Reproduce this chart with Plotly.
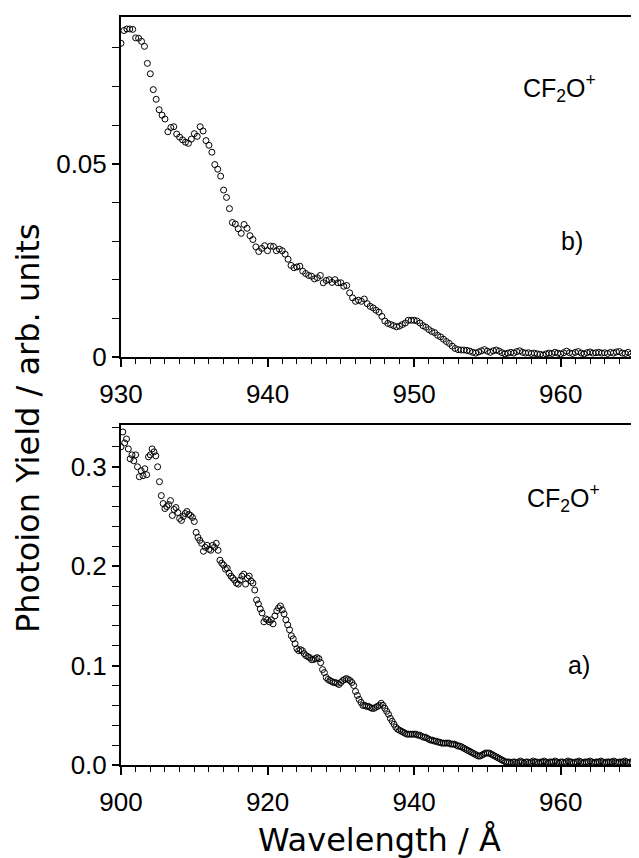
import plotly.graph_objects as go

FONT = "Liberation Sans, Arial, sans-serif"
TITLE_FONT = "DejaVu Sans, sans-serif"

# --- panel b): CF2O+ yield, 930-965 A, sampled every 0.2 A ---
WL_B_START = 930.0
WL_B_STEP = 0.2
yield_b = [
    0.0812, 0.0845, 0.0849, 0.0849, 0.0848,
    0.0826, 0.0825, 0.0817, 0.0804, 0.0760,
    0.0733, 0.0692, 0.0667, 0.0640, 0.0626,
    0.0616, 0.0583, 0.0594, 0.0596, 0.0577,
    0.0569, 0.0562, 0.0556, 0.0553, 0.0564,
    0.0578, 0.0571, 0.0596, 0.0585, 0.0560,
    0.0548, 0.0530, 0.0498, 0.0486, 0.0468,
    0.0432, 0.0413, 0.0384, 0.0348, 0.0344,
    0.0332, 0.0320, 0.0343, 0.0333, 0.0314,
    0.0304, 0.0285, 0.0273, 0.0281, 0.0288,
    0.0275, 0.0287, 0.0286, 0.0275, 0.0279,
    0.0275, 0.0266, 0.0253, 0.0237, 0.0231,
    0.0233, 0.0235, 0.0222, 0.0216, 0.0211,
    0.0209, 0.0202, 0.0205, 0.0211, 0.0192,
    0.0198, 0.0200, 0.0193, 0.0200, 0.0192,
    0.0192, 0.0183, 0.0185, 0.0166, 0.0153,
    0.0144, 0.0147, 0.0144, 0.0150, 0.0138,
    0.0131, 0.0127, 0.0121, 0.0116, 0.0105,
    0.0093, 0.0087, 0.0084, 0.0081, 0.0078,
    0.0080, 0.0084, 0.0088, 0.0095, 0.0095,
    0.0095, 0.0093, 0.0088, 0.0081, 0.0077,
    0.0071, 0.0066, 0.0063, 0.0056, 0.0052,
    0.0046, 0.0040, 0.0035, 0.0028, 0.0022,
    0.0019, 0.0018, 0.0018, 0.0017, 0.0015,
    0.0012, 0.0010, 0.0013, 0.0016, 0.0019,
    0.0015, 0.0012, 0.0016, 0.0018, 0.0015,
    0.0011, 0.0008, 0.0010, 0.0012, 0.0010,
    0.0014, 0.0016, 0.0012, 0.0010, 0.0011,
    0.0009, 0.0010, 0.0008, 0.0007, 0.0005,
    0.0008, 0.0010, 0.0009, 0.0012, 0.0010,
    0.0008, 0.0011, 0.0015, 0.0011, 0.0009,
    0.0012, 0.0014, 0.0010, 0.0008, 0.0011,
    0.0013, 0.0010, 0.0011, 0.0012, 0.0010,
    0.0011, 0.0009, 0.0012, 0.0010, 0.0013,
    0.0014, 0.0010, 0.0009, 0.0012, 0.0008,
    0.0009,
]

# --- panel a): CF2O+ yield, 900-970 A, sampled every 0.25 A ---
WL_A_START = 900.0
WL_A_STEP = 0.25
yield_a = [
    0.320, 0.335, 0.324, 0.328,
    0.318, 0.308, 0.312, 0.306,
    0.312, 0.300, 0.290, 0.296,
    0.291, 0.298, 0.292, 0.310,
    0.312, 0.318, 0.315, 0.311,
    0.300, 0.285, 0.271, 0.263,
    0.258, 0.260, 0.262, 0.266,
    0.251, 0.257, 0.259, 0.254,
    0.248, 0.246, 0.250, 0.253,
    0.255, 0.252, 0.251, 0.249,
    0.245, 0.234, 0.229, 0.226,
    0.223, 0.215, 0.219, 0.221,
    0.217, 0.216, 0.221, 0.219,
    0.223, 0.216, 0.206, 0.203,
    0.201, 0.197, 0.198, 0.193,
    0.190, 0.188, 0.186, 0.183,
    0.182, 0.186, 0.190, 0.192,
    0.182, 0.188, 0.190, 0.185,
    0.183, 0.176, 0.166, 0.162,
    0.157, 0.153, 0.144, 0.147,
    0.146, 0.144, 0.146, 0.142,
    0.150, 0.155, 0.158, 0.160,
    0.156, 0.152, 0.146, 0.141,
    0.136, 0.130, 0.127, 0.122,
    0.117, 0.115, 0.116, 0.115,
    0.112, 0.110, 0.109, 0.108,
    0.106, 0.106, 0.107, 0.108,
    0.107, 0.103, 0.096, 0.093,
    0.088, 0.086, 0.085, 0.084,
    0.083, 0.083, 0.082, 0.081,
    0.083, 0.085, 0.086, 0.087,
    0.086, 0.085, 0.083, 0.080,
    0.074, 0.070, 0.066, 0.063,
    0.060, 0.060, 0.059, 0.059,
    0.058, 0.057, 0.057, 0.058,
    0.059, 0.060, 0.062, 0.060,
    0.057, 0.054, 0.051, 0.047,
    0.044, 0.041, 0.038, 0.036,
    0.035, 0.034, 0.033, 0.032,
    0.031, 0.031, 0.031, 0.031,
    0.031, 0.031, 0.030, 0.030,
    0.029, 0.028, 0.028, 0.027,
    0.026, 0.025, 0.025, 0.024,
    0.024, 0.023, 0.023, 0.022,
    0.022, 0.022, 0.022, 0.022,
    0.021, 0.021, 0.021, 0.020,
    0.019, 0.019, 0.018, 0.017,
    0.016, 0.015, 0.014, 0.013,
    0.012, 0.011, 0.010, 0.009,
    0.009, 0.010, 0.011, 0.012,
    0.012, 0.012, 0.011, 0.010,
    0.009, 0.008, 0.007, 0.006,
    0.005, 0.004, 0.003, 0.003,
    0.003, 0.002, 0.003, 0.003,
    0.002, 0.003, 0.004, 0.003,
    0.002, 0.003, 0.003, 0.002,
    0.003, 0.004, 0.003, 0.003,
    0.002, 0.003, 0.003, 0.004,
    0.003, 0.002, 0.003, 0.003,
    0.003, 0.004, 0.003, 0.002,
    0.003, 0.003, 0.002, 0.003,
    0.004, 0.003, 0.003, 0.002,
    0.003, 0.003, 0.004, 0.003,
    0.002, 0.003, 0.003, 0.003,
    0.004, 0.003, 0.002, 0.003,
    0.003, 0.003, 0.004, 0.003,
    0.002, 0.003, 0.003, 0.003,
    0.003, 0.004, 0.003, 0.002,
    0.003, 0.003, 0.003, 0.004,
    0.003, 0.002, 0.003, 0.003,
    0.003,
]

wl_b = [round(WL_B_START + i * WL_B_STEP, 3) for i in range(len(yield_b))]
wl_a = [round(WL_A_START + i * WL_A_STEP, 3) for i in range(len(yield_a))]

x_ticks_b = [930, 940, 950, 960]
x_ticks_a = [900, 920, 940, 960]
y_ticks_b = [0, 0.05]
y_ticks_a = [0.0, 0.1, 0.2, 0.3]

marker = dict(symbol="circle-open", size=6, color="black", line=dict(width=1, color="black"))

fig = go.Figure()
fig.add_trace(go.Scatter(x=wl_b, y=yield_b, mode="markers", marker=marker,
                         xaxis="x", yaxis="y", showlegend=False))
fig.add_trace(go.Scatter(x=wl_a, y=yield_a, mode="markers", marker=marker,
                         xaxis="x2", yaxis="y2", showlegend=False))

axis_common = dict(
    showline=True, linecolor="black", linewidth=2, mirror=True,
    showgrid=False, zeroline=False, ticks="outside", tickcolor="black",
    tickwidth=1.5, ticklen=8, tickfont=dict(family=FONT, size=26, color="black"),
)

# page body has an 8px margin, so the figure is 8px smaller than the window
fig.update_layout(
    width=631, height=850,
    margin=dict(l=113, r=3, t=9, b=93),
    paper_bgcolor="white", plot_bgcolor="white",
    font=dict(family=FONT, size=26, color="black"),
    xaxis=dict(axis_common, domain=[0, 1], anchor="y", range=[930, 965],
               tickvals=x_ticks_b, ticklabelstandoff=5,
               minor=dict(dtick=1, ticks="outside", ticklen=5, tickcolor="black", tickwidth=1)),
    yaxis=dict(axis_common, domain=[0.5455, 1], anchor="x", range=[0, 0.088],
               tickvals=y_ticks_b, ticktext=["0", "0.05"], ticklen=7,
               minor=dict(dtick=0.01, ticks="outside", ticklen=7, tickcolor="black", tickwidth=1)),
    xaxis2=dict(axis_common, domain=[0, 1], anchor="y2", range=[900, 970],
                tickvals=x_ticks_a, ticklabelstandoff=5,
                minor=dict(dtick=2, ticks="outside", ticklen=5, tickcolor="black", tickwidth=1)),
    yaxis2=dict(axis_common, domain=[0, 0.4545], anchor="x2", range=[0, 0.342],
                tickvals=y_ticks_a, tickformat=".1f", ticklen=7,
                minor=dict(dtick=0.02, ticks="outside", ticklen=7, tickcolor="black", tickwidth=1)),
)

annots = [
    dict(text="CF<sub>2</sub>O<sup>+</sup>", x=0.855, y=0.905, size=25, family=FONT),
    dict(text="b)", x=0.88, y=0.70, size=25, family=FONT),
    dict(text="CF<sub>2</sub>O<sup>+</sup>", x=0.862, y=0.357, size=25, family=FONT),
    dict(text="a)", x=0.893, y=0.134, size=25, family=FONT),
    dict(text="Photoion Yield / arb. units", x=-0.18, y=0.45, size=32,
         family=TITLE_FONT, textangle=-90),
    dict(text="Wavelength / Å", x=0.503, y=-0.100, size=32, family=TITLE_FONT),
]
for a in annots:
    size = a.pop("size")
    family = a.pop("family")
    fig.add_annotation(showarrow=False, xanchor="center", yanchor="middle",
                       xref="paper", yref="paper",
                       font=dict(family=family, size=size, color="black"), **a)

fig.write_html("out.html")
